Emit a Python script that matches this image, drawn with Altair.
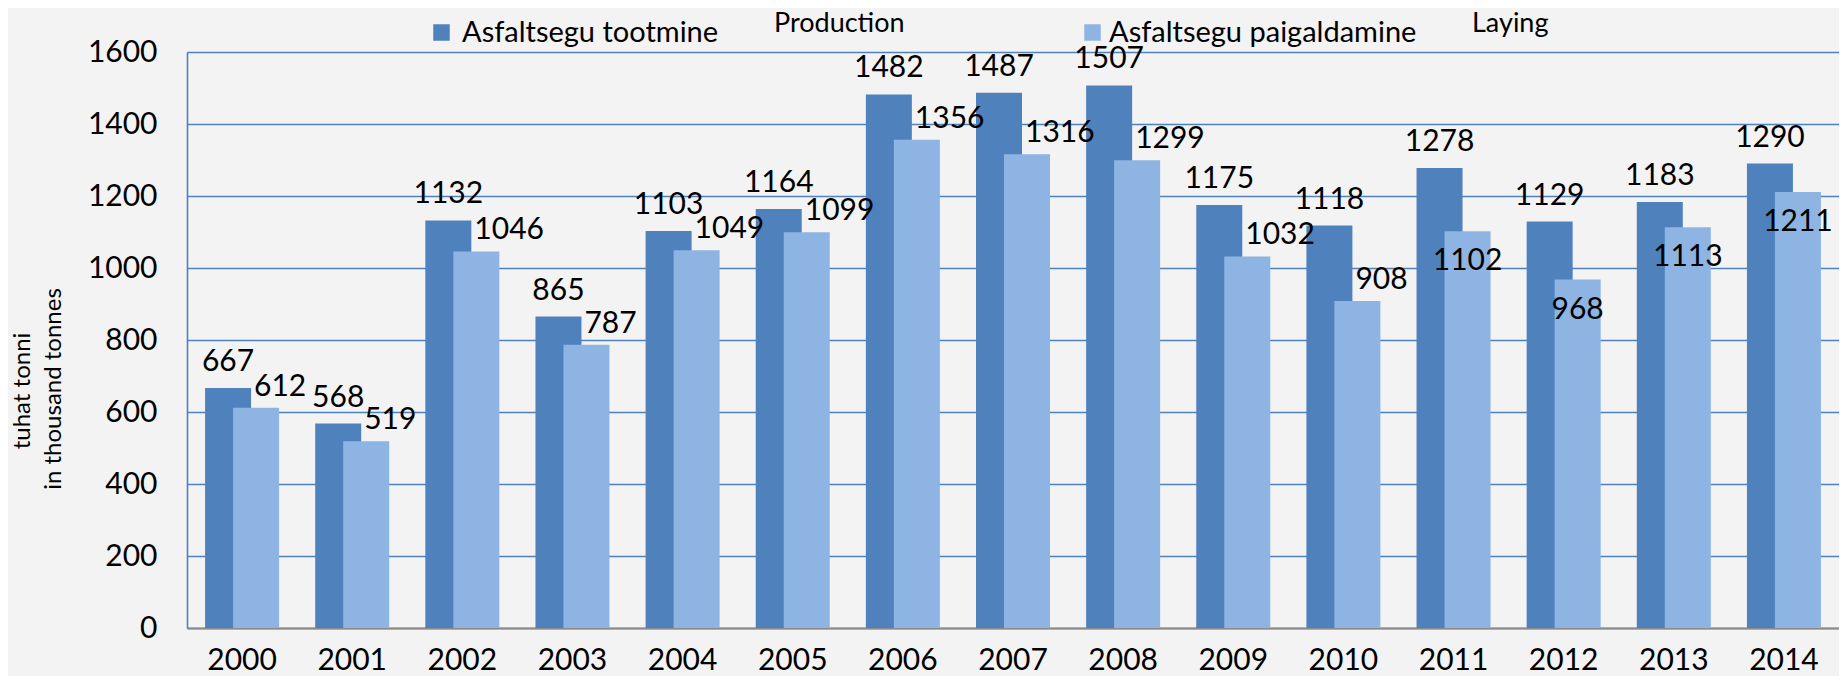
import altair as alt
import pandas as pd

years = [str(y) for y in range(2000, 2015)]
production = [667, 568, 1132, 865, 1103, 1164, 1482, 1487, 1507, 1175, 1118, 1278, 1129, 1183, 1290]
laying = [612, 519, 1046, 787, 1049, 1099, 1356, 1316, 1299, 1032, 908, 1102, 968, 1113, 1211]
series_names = ["Asfaltsegu tootmine", "Asfaltsegu paigaldamine"]
series_en = ["Production", "Laying"]
y_ticks = [0, 200, 400, 600, 800, 1000, 1200, 1400, 1600]
y_title = ["tuhat tonni", "in thousand tonnes"]

DARK = "#4F81BD"
LIGHT = "#8EB4E3"
FONT = "Lato"
NUM_SIZE = 30

df = pd.DataFrame({"year": years, "production": production, "laying": laying})


def x_enc():
    return alt.X(
        "year:N",
        sort=years,
        scale=alt.Scale(paddingInner=0, paddingOuter=0),
        axis=alt.Axis(
            title=None, labelAngle=0, ticks=False, tickSize=0,
            labelPadding=32, labelBaseline="middle",
            labelFont=FONT, labelFontSize=NUM_SIZE, labelColor="#000000",
            domainColor="#8A8A8A", domainWidth=2,
        ),
    )


def y_enc():
    return alt.Y(
        "value:Q",
        scale=alt.Scale(domain=[0, 1600], nice=False),
        axis=alt.Axis(
            values=y_ticks, format="d", grid=True, gridColor=DARK, gridWidth=1.6,
            ticks=False, tickSize=0, labelPadding=30,
            labelFont=FONT, labelFontSize=NUM_SIZE, labelColor="#000000",
            domainColor=DARK, domainWidth=1.6, title=None,
        ),
    )


base = alt.Chart(df)

dark_bars = base.transform_calculate(value="datum.production").mark_bar(
    width=46, xOffset=-14, color=DARK
).encode(x=x_enc(), y=y_enc())

light_bars = base.transform_calculate(value="datum.laying").mark_bar(
    width=46, xOffset=14, color=LIGHT
).encode(x=x_enc(), y=y_enc())

dark_labels = base.transform_calculate(value="datum.production").mark_text(
    xOffset=-14, dy=-26, align="center", baseline="middle",
    font=FONT, fontSize=NUM_SIZE, color="#000000"
).encode(x=x_enc(), y=y_enc(), text=alt.Text("value:Q", format="d"))

light_labels_out = base.transform_calculate(value="datum.laying").transform_filter(
    "toNumber(datum.year) < 2011"
).mark_text(
    xOffset=12, dy=-21, align="left", baseline="middle",
    font=FONT, fontSize=NUM_SIZE, color="#000000"
).encode(x=x_enc(), y=y_enc(), text=alt.Text("value:Q", format="d"))

light_labels_in = base.transform_calculate(value="datum.laying").transform_filter(
    "toNumber(datum.year) >= 2011"
).mark_text(
    xOffset=14, dy=30, align="center", baseline="middle",
    font=FONT, fontSize=NUM_SIZE, color="#000000"
).encode(x=x_enc(), y=y_enc(), text=alt.Text("value:Q", format="d"))

# y axis title (two rotated lines)
title_df = pd.DataFrame({"line": y_title})
ytitle1 = alt.Chart(title_df).transform_filter(alt.datum.line == y_title[0]).mark_text(
    angle=270, align="center", baseline="middle", font=FONT, fontSize=24, color="#000000"
).encode(x=alt.value(-164), y=alt.value(339), text="line:N")
ytitle2 = alt.Chart(title_df).transform_filter(alt.datum.line == y_title[1]).mark_text(
    angle=270, align="center", baseline="middle", font=FONT, fontSize=24, color="#000000"
).encode(x=alt.value(-133), y=alt.value(337), text="line:N")

leg_df = pd.DataFrame({"name": series_names, "en": series_en})

leg_sq1 = alt.Chart(leg_df).transform_filter(alt.datum.name == series_names[0]).mark_square(
    size=272, color=DARK, opacity=1
).encode(x=alt.value(254.5), y=alt.value(-19.5))
leg_tx1 = alt.Chart(leg_df).transform_filter(alt.datum.name == series_names[0]).mark_text(
    align="left", baseline="middle", font=FONT, fontSize=29, color="#000000"
).encode(x=alt.value(275), y=alt.value(-19), text="name:N")
leg_en1 = alt.Chart(leg_df).transform_filter(alt.datum.name == series_names[0]).mark_text(
    align="left", baseline="middle", font=FONT, fontSize=27, color="#000000"
).encode(x=alt.value(587), y=alt.value(-28), text="en:N")

leg_sq2 = alt.Chart(leg_df).transform_filter(alt.datum.name == series_names[1]).mark_square(
    size=272, color=LIGHT, opacity=1
).encode(x=alt.value(905.5), y=alt.value(-19.5))
leg_tx2 = alt.Chart(leg_df).transform_filter(alt.datum.name == series_names[1]).mark_text(
    align="left", baseline="middle", font=FONT, fontSize=29, color="#000000"
).encode(x=alt.value(922), y=alt.value(-19), text="name:N")
leg_en2 = alt.Chart(leg_df).transform_filter(alt.datum.name == series_names[1]).mark_text(
    align="left", baseline="middle", font=FONT, fontSize=27, color="#000000"
).encode(x=alt.value(1285), y=alt.value(-28), text="en:N")

chart = alt.layer(
    dark_bars, light_bars, dark_labels, light_labels_out, light_labels_in,
    ytitle1, ytitle2,
    leg_sq1, leg_tx1, leg_en1, leg_sq2, leg_tx2, leg_en2,
).properties(
    width=1652, height=576,
    autosize=alt.AutoSizeParams(type="none"),
    padding={"left": 179, "top": 44, "right": 0, "bottom": 48},
    background="#F3F3F3",
).configure_view(stroke=None)

chart.save("out.html", embed_options={"renderer": "svg", "actions": False})
